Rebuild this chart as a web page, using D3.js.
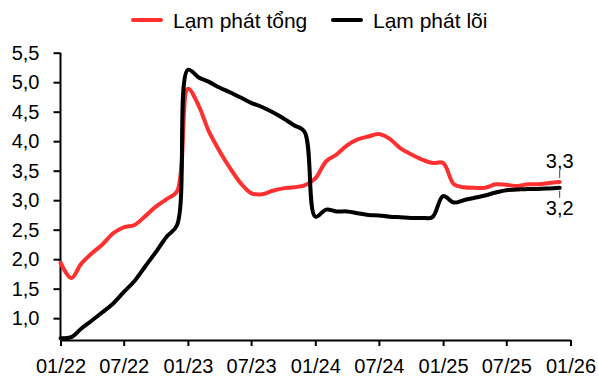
<!DOCTYPE html>
<html>
<head>
<meta charset="utf-8">
<script src="https://cdn.jsdelivr.net/npm/d3@7"></script>
<style>
  html, body { margin: 0; padding: 0; background: #fff; }
  svg { display: block; font-family: "Liberation Sans", Arial, sans-serif; }
</style>
</head>
<body>
<svg id="chart" width="598" height="378"></svg>
<script>
// Monthly series, Jan 2022 – Dec 2025 (year-to-date average, %)
const months = d3.timeMonth.range(new Date(2022, 0, 1), new Date(2026, 0, 1));

const headline = [
  1.94, 1.68, 1.92, 2.10, 2.25, 2.44, 2.54, 2.58, 2.73, 2.89, 3.02, 3.15,
  4.89, 4.60, 4.18, 3.84, 3.55, 3.29, 3.12, 3.10, 3.16, 3.20, 3.22, 3.25,
  3.37, 3.66, 3.77, 3.93, 4.03, 4.08, 4.12, 4.04, 3.88, 3.78, 3.69, 3.63,
  3.63, 3.27, 3.22, 3.21, 3.21, 3.27, 3.26, 3.24, 3.27, 3.27, 3.29, 3.31
];

const core = [
  0.66, 0.68, 0.82, 0.96, 1.10, 1.25, 1.44, 1.63, 1.88, 2.12, 2.38, 2.58,
  5.21, 5.08, 5.01, 4.91, 4.83, 4.74, 4.65, 4.58, 4.49, 4.39, 4.27, 4.16,
  2.72, 2.84, 2.81, 2.81, 2.78, 2.75, 2.74, 2.72, 2.71, 2.70, 2.70, 2.71,
  3.07, 2.96, 3.00, 3.04, 3.08, 3.13, 3.17, 3.18, 3.19, 3.19, 3.20, 3.21
];

const seriesNames = ["Lạm phát tổng", "Lạm phát lõi"];
const seriesColors = ["#ff3030", "#000000"];

const yTicks = [1.0, 1.5, 2.0, 2.5, 3.0, 3.5, 4.0, 4.5, 5.0, 5.5];
const xTickDates = d3.timeMonth.every(6).range(new Date(2022, 0, 1), new Date(2026, 0, 2));

const svg = d3.select("#chart");

const x = d3.scaleTime()
  .domain([new Date(2022, 0, 1), new Date(2026, 0, 1)])
  .range([60.5, 570.5]);

const y = d3.scaleLinear()
  .domain([0.63, 5.5])
  .range([340, 52.7]);

const fmtComma = v => d3.format(".1f")(v).replace(".", ",");

// Axes
const yAxis = d3.axisLeft(y)
  .tickValues(yTicks)
  .tickFormat(fmtComma)
  .tickSize(7)
  .tickPadding(14)
  .tickSizeOuter(0);

const gy = svg.append("g")
  .attr("transform", "translate(60.5,0)")
  .call(yAxis);

const xAxis = d3.axisBottom(x)
  .tickValues(xTickDates)
  .tickFormat(d3.timeFormat("%m/%y"))
  .tickSize(6)
  .tickPadding(13)
  .tickSizeOuter(0);

const gx = svg.append("g")
  .attr("transform", "translate(0,340)")
  .call(xAxis);

[gx, gy].forEach(g => {
  g.select(".domain").attr("stroke", "#000").attr("stroke-width", 2);
  g.selectAll(".tick line").attr("stroke", "#000").attr("stroke-width", 2);
  g.selectAll(".tick text")
    .attr("fill", "#000")
    .style("font-size", "20px")
    .style("font-family", "'Liberation Sans', Arial, sans-serif");
});
// y axis line spans the full plot height down to the x axis
gy.select(".domain").attr("d", `M0,${y(5.5)}V340`);

// Lines
const line = d3.line()
  .x((d, i) => x(months[i]))
  .y(d => y(d))
  .curve(d3.curveCatmullRom.alpha(0.5));

[headline, core].forEach((vals, k) => {
  svg.append("path")
    .datum(vals)
    .attr("fill", "none")
    .attr("stroke", seriesColors[k])
    .attr("stroke-width", 4)
    .attr("stroke-linejoin", "round")
    .attr("stroke-linecap", "round")
    .attr("d", line);
});

// End-point labels
const lastIdx = months.length - 1;
const xEnd = x(months[lastIdx]);
const yHead = y(headline[lastIdx]);
const yCore = y(core[lastIdx]);

svg.append("line")
  .attr("x1", xEnd).attr("x2", xEnd)
  .attr("y1", yHead - 11).attr("y2", yHead - 4)
  .attr("stroke", "#444").attr("stroke-width", 1);
svg.append("line")
  .attr("x1", xEnd).attr("x2", xEnd)
  .attr("y1", yCore + 3).attr("y2", yCore + 10)
  .attr("stroke", "#444").attr("stroke-width", 1);

svg.append("text")
  .attr("x", xEnd).attr("y", yHead - 14)
  .attr("text-anchor", "middle")
  .style("font-size", "20px")
  .text(fmtComma(headline[lastIdx]));
svg.append("text")
  .attr("x", xEnd).attr("y", yCore + 27)
  .attr("text-anchor", "middle")
  .style("font-size", "20px")
  .text(fmtComma(core[lastIdx]));

// Legend
const legendItems = [
  { name: seriesNames[0], color: seriesColors[0], x: 133 },
  { name: seriesNames[1], color: seriesColors[1], x: 333 }
];
const lg = svg.append("g");
legendItems.forEach(it => {
  lg.append("line")
    .attr("x1", it.x).attr("x2", it.x + 28)
    .attr("y1", 20).attr("y2", 20)
    .attr("stroke", it.color)
    .attr("stroke-width", 4)
    .attr("stroke-linecap", "round");
  lg.append("text")
    .attr("x", it.x + 40).attr("y", 28)
    .style("font-size", "21px")
    .text(it.name);
});
</script>
</body>
</html>
